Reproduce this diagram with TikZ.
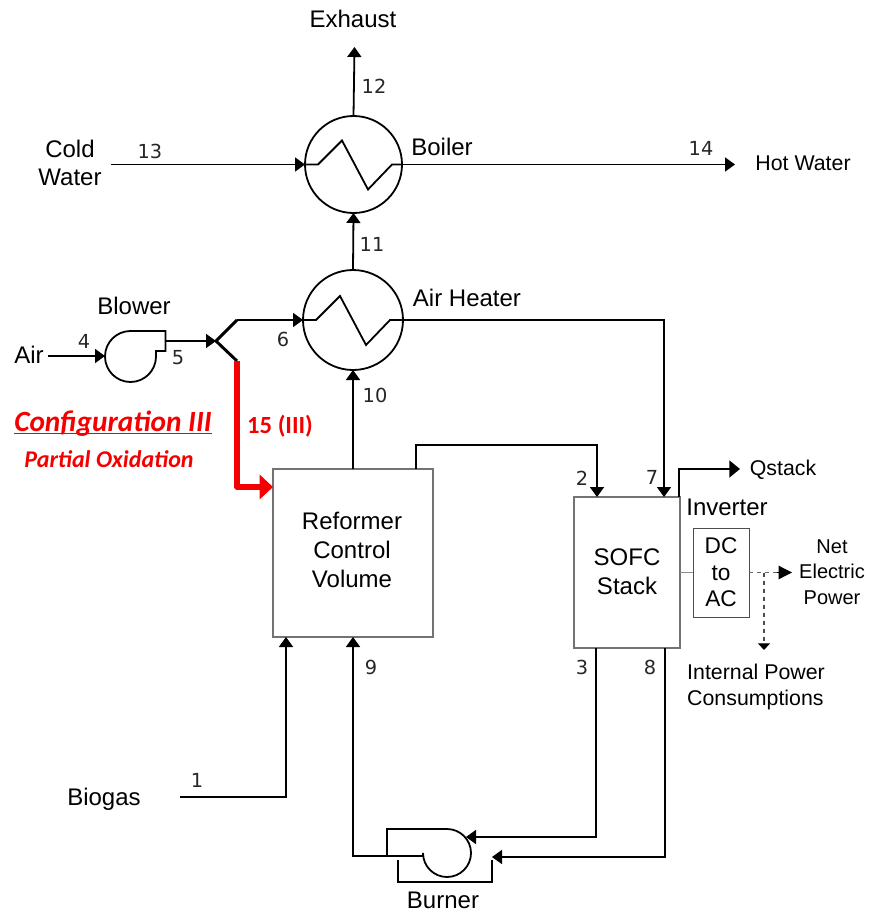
\documentclass[tikz,border=0pt]{standalone}
\usepackage{fontspec}
\setmainfont{Liberation Sans}
\newfontfamily\calfont{Carlito}
\newfontfamily\numfont{DejaVu Sans}
\usetikzlibrary{arrows.meta}
\definecolor{flamered}{RGB}{245,0,0}
\tikzset{
	stream/.style={line width=1.35pt},
	arrowed/.style={stream, -{Triangle[length=7.5pt,width=10.5pt]}},
	vessel/.style={draw=black!55, line width=0.9pt, inner sep=0pt, outer sep=0pt},
	exchanger/.style={draw, circle, line width=1.35pt, inner sep=0pt, outer sep=0pt},
	lbl/.style={font=\fontsize{18}{22}\selectfont, align=center, inner sep=0pt},
	num/.style={font=\numfont\fontsize{14.5}{18}\selectfont, text=black!85, inner sep=0pt},
	redtext/.style={text=flamered, inner sep=0pt, anchor=base},
}
\def\coil#1{\draw[stream] (#1.west) -- ++(13,0) -- ++(24,-24) -- ++(26,49) -- ++(24,-25) -- (#1.east);}

\begin{document}
\begin{tikzpicture}[x=0.75pt,y=-0.75pt]
		%%%%% START %%%%%
		\useasboundingbox (0,0) rectangle (870,913);
		
		\node[exchanger, minimum size=72.75pt] (boiler) at (353.5,164.5) {};
		\node[exchanger, minimum size=75pt] (airheater) at (353,320) {};
		\coil{boiler}
		\coil{airheater}
		
		\node[vessel, minimum width=120pt, minimum height=126pt] (reformer) at (353,553) {};
		\node[vessel, minimum width=79.5pt, minimum height=113.25pt] (stack) at (627,572.5) {};
		\node[draw=black!70, line width=0.6pt, inner sep=0pt, outer sep=0pt, align=center, minimum width=42pt, minimum height=66.75pt, font=\fontsize{17}{20}\selectfont] (inverter) at (721,572.5) {DC\\to\\AC};
		
		% blower and burner casings
		\draw[stream] (130.5,331) -- (165.5,331) -- (165.5,351) -- (156,351) -- (156,356.5) arc (0:270:25.5);
		\draw[stream] (387,856) -- (387,829) -- (447,829) arc (-90:180:24) -- (423,856) -- (387,856);
		\draw[stream] (398,860) -- (398,882) -- (492,882) -- (492,860);
		
		% free ends
		\coordinate (exhaust) at (354.5,47);
		\coordinate (coldin) at (111,164.5);
		\coordinate (hotout) at (735,164.5);
		\coordinate (airin) at (48,356);
		\coordinate (blowerin) at (105,356);
		\coordinate (blowerout) at (165.5,341);
		\coordinate (split) at (216,341);
		\coordinate (splitup) at (237,320);
		\coordinate (splitdown) at (237,361);
		\coordinate (reformerair) at (273,487);
		\coordinate (reformertop) at (416,469);
		\coordinate (stack2) at (597,497);
		\coordinate (stack7) at (664,497);
		\coordinate (stack3) at (596,648);
		\coordinate (stack8) at (665,648);
		\coordinate (stackq) at (679,497);
		\coordinate (qout) at (740,469);
		\coordinate (burner3) at (466,837);
		\coordinate (burner8) at (492,857);
		\coordinate (burnerout) at (387,856);
		\coordinate (reformer9) at (353,637);
		\coordinate (reformer1) at (286,637);
		\coordinate (biogasin) at (180,797);
		\coordinate (tap) at (764,572.5);
		\coordinate (powerdash) at (777,572.5);
		\coordinate (powerout) at (792,572.5);
		\coordinate (internal) at (764,650);
		
		\draw[arrowed] (boiler.north) -- (exhaust);
		\draw[arrowed] (coldin) -- (boiler.west);
		\draw[arrowed] (boiler.east) -- (hotout);
		\draw[arrowed] (airheater.north) -- (boiler.south);
		\draw[arrowed] (reformer.north) -- (airheater.south);
		\draw[arrowed] (airin) -- (blowerin);
		\draw[arrowed] (blowerout) -- (split);
		\draw[line width=2.2pt] (splitup) -- (split) -- (splitdown);
		\draw[arrowed] (splitup) -- (airheater.west);
		\draw[flamered, line width=3.8pt, line join=round, -{Triangle[length=10pt,width=18pt]}] (splitdown) |- (reformerair);
		\draw[arrowed] (reformertop) |- (597,445) -- (stack2);
		\draw[arrowed] (airheater.east) -| (stack7);
		\draw[line width=2.2pt, -{Triangle[length=8pt,width=12.5pt]}] (stackq) |- (qout);
		\draw[arrowed] (stack3) |- (burner3);
		\draw[arrowed] (stack8) |- (burner8);
		\draw[arrowed] (burnerout) -| (reformer9);
		\draw[arrowed] (biogasin) -| (reformer1);
		\draw[black!45, line width=0.9pt] (stack.east) -- (inverter.west);
		\draw[black!60, line width=0.9pt, dashed] (inverter.east) -- (powerdash);
		\draw[-{Triangle[length=10pt,width=10pt]}, line width=0.9pt] (powerdash) -- (powerout);
		\draw[black!70, line width=0.8pt, dashed, -{Triangle[length=5pt,width=9pt,color=black]}] (tap) -- (internal);
		
		\node[lbl, font=\fontsize{18}{22}\selectfont] (reformertext) at (352,550) {Reformer\\Control\\Volume};
		\node[lbl, font=\fontsize{18}{22}\selectfont] (stacktext) at (627,572) {SOFC\\Stack};
		\node[lbl] (exhausttext) at (353,19) {Exhaust};
		\node[lbl, font=\fontsize{18}{20.5}\selectfont] (coldtext) at (70,163) {Cold\\Water};
		\node[lbl, font=\fontsize{16}{20}\selectfont] (hottext) at (803,163) {Hot Water};
		\node[lbl] (boilertext) at (442,147) {Boiler};
		\node[lbl] (heatertext) at (467,298) {Air Heater};
		\node[lbl] (blowertext) at (134,306) {Blower};
		\node[lbl] (airtext) at (29,355) {Air};
		\node[lbl] (biogastext) at (104,799) {Biogas};
		\node[lbl] (burnertext) at (443,900) {Burner};
		\node[lbl, font=\fontsize{16}{20}\selectfont] (qtext) at (783,470) {Qstack};
		\node[lbl] (invertertext) at (727,507) {Inverter};
		\node[lbl, font=\fontsize{15}{19}\selectfont] (nettext) at (832,572) {Net\\Electric\\Power};
		\node[lbl, align=left, font=\fontsize{16}{19.5}\selectfont] (internaltext) at (756,687) {Internal Power\\Consumptions};
		
		\node[num] (n1) at (197,780) {1};
		\node[num] (n2) at (582,478) {2};
		\node[num] (n3) at (582,667) {3};
		\node[num] (n4) at (84,341) {4};
		\node[num] (n5) at (178,358) {5};
		\node[num] (n6) at (283,339) {6};
		\node[num] (n7) at (652,477) {7};
		\node[num] (n8) at (650,667) {8};
		\node[num] (n9) at (371,667) {9};
		\node[num] (n10) at (375,395) {10};
		\node[num] (n11) at (372,244) {11};
		\node[num] (n12) at (374,86) {12};
		\node[num] (n13) at (150,151) {13};
		\node[num] (n14) at (701,148) {14};
		
		\node[redtext, font=\calfont\bfseries\fontsize{18.5}{22}\selectfont] (n15) at (280,433) {15 (III)};
		\node[redtext, font=\calfont\bfseries\itshape\fontsize{22}{26}\selectfont] (configtext) at (113,431) {\underline{\smash{Configuration III}}};
		\node[redtext, font=\calfont\bfseries\itshape\fontsize{18}{22}\selectfont] (oxidationtext) at (109,467) {Partial Oxidation};
		%%%%% END %%%%%
	\end{tikzpicture}
\end{document}
